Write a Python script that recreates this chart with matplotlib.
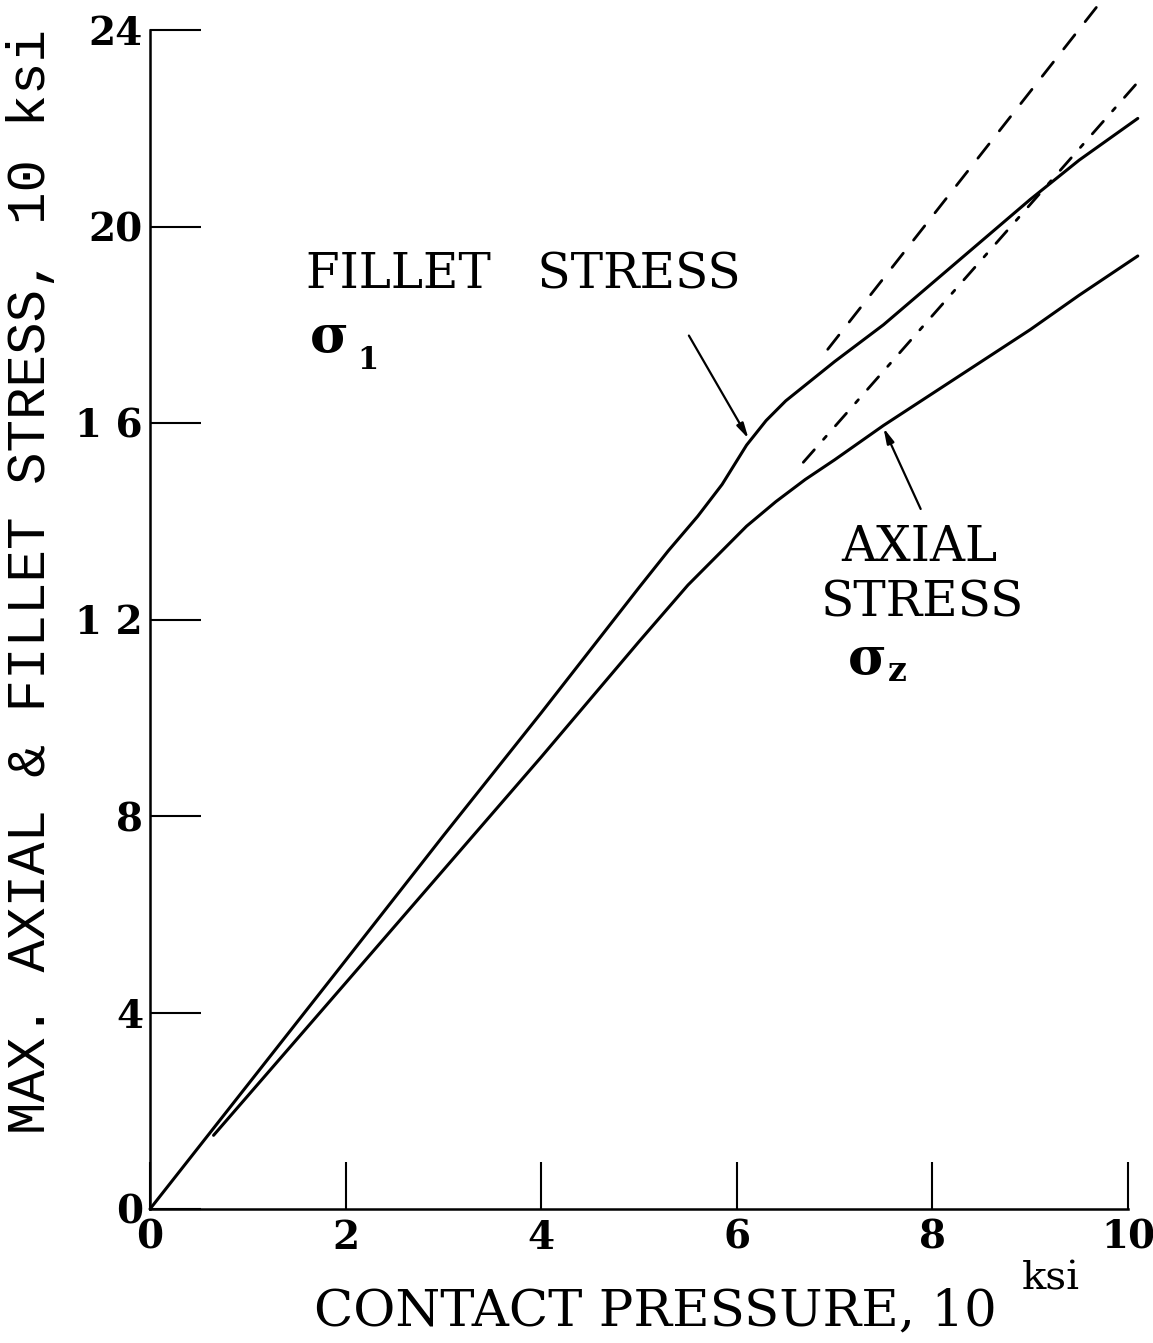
import matplotlib
matplotlib.use("Agg")
import matplotlib.pyplot as plt

# ---- data ----
fillet_x = [0.0, 1.0, 2.0, 3.0, 4.0, 5.0, 5.3, 5.6, 5.85, 6.1, 6.3, 6.5, 6.75, 7.0, 7.5, 8.0, 8.5, 9.0, 9.5, 10.1]
fillet_y = [0.0, 2.53, 5.06, 7.6, 10.1, 12.65, 13.4, 14.1, 14.75, 15.55, 16.05, 16.45, 16.85, 17.25, 18.0, 18.85, 19.7, 20.55, 21.35, 22.2]

axial_x = [0.65, 2.0, 3.0, 4.0, 5.0, 5.5, 5.8, 6.1, 6.4, 6.7, 7.0, 7.5, 8.0, 8.5, 9.0, 9.5, 10.1]
axial_y = [1.5, 4.6, 6.9, 9.2, 11.55, 12.7, 13.3, 13.9, 14.4, 14.85, 15.25, 15.95, 16.6, 17.25, 17.9, 18.6, 19.4]

fillet_ext_x = [6.93, 9.85]
fillet_ext_y = [17.5, 24.9]

axial_ext_x = [6.68, 10.15]
axial_ext_y = [15.2, 23.05]

x_ticks = [0, 2, 4, 6, 8, 10]
x_tick_labels = ["0", "2", "4", "6", "8", "10"]
y_ticks = [0, 4, 8, 12, 16, 20, 24]
y_tick_labels = ["0", "4", "8", "1 2", "1 6", "20", "24"]

W, H = 1153, 1343
fig = plt.figure(figsize=(W / 100, H / 100), dpi=100)
ax = fig.add_axes([150 / W, 1 - 1209 / H, (1128 - 150) / W, (1209 - 30) / H])

lw = 2.2
ax.plot(fillet_x, fillet_y, color="black", lw=lw, clip_on=False,
        solid_capstyle="round", solid_joinstyle="round")
ax.plot(axial_x, axial_y, color="black", lw=lw, clip_on=False,
        solid_capstyle="round", solid_joinstyle="round")
ax.plot(fillet_ext_x, fillet_ext_y, color="black", lw=2.0, clip_on=False,
        linestyle=(0, (6.5, 6.0)), dash_capstyle="round")
ax.plot(axial_ext_x, axial_ext_y, color="black", lw=2.0, clip_on=False,
        linestyle=(0, (6.0, 5.0, 1.5, 5.0)), dash_capstyle="round")

ax.set_xlim(0, 10)
ax.set_ylim(0, 24)
for s in ("top", "right"):
    ax.spines[s].set_visible(False)
for s in ("left", "bottom"):
    ax.spines[s].set_linewidth(1.8)

ax.set_xticks(x_ticks)
ax.set_xticklabels(x_tick_labels)
ax.set_yticks(y_ticks)
ax.set_yticklabels(y_tick_labels)
for lab in ax.get_xticklabels() + ax.get_yticklabels():
    lab.set_fontfamily("DejaVu Serif")
    lab.set_fontweight("bold")
    lab.set_fontsize(28)
ax.tick_params(axis="x", direction="in", length=34, width=1.5, pad=7)
ax.tick_params(axis="y", direction="in", length=37, width=1.5, pad=5)

serif = "DejaVu Serif"
ax.text(1.6, 18.74, "FILLET   STRESS", family=serif, fontsize=35, va="baseline", ha="left")
ax.text(1.63, 17.45, "σ", family=serif, fontsize=38, fontweight="bold", va="baseline", ha="left")
ax.text(2.12, 17.1, "1", family=serif, fontsize=22, fontweight="bold", va="baseline", ha="left")

ax.text(7.87, 13.19, "AXIAL", family=serif, fontsize=35, va="baseline", ha="center")
ax.text(7.9, 12.07, "STRESS", family=serif, fontsize=35, va="baseline", ha="center")
ax.text(7.14, 10.9, "σ", family=serif, fontsize=38, fontweight="bold", va="baseline", ha="left")
ax.text(7.54, 10.75, "z", family=serif, fontsize=24, fontweight="bold", va="baseline", ha="left")

# arrows
ax.annotate("", xy=(6.12, 15.68), xytext=(5.51, 17.78),
            arrowprops=dict(arrowstyle="-|>,head_length=0.9,head_width=0.22",
                            color="black", lw=1.6, shrinkA=0, shrinkB=0))
ax.annotate("", xy=(7.5, 15.9), xytext=(7.88, 14.25),
            arrowprops=dict(arrowstyle="-|>,head_length=0.9,head_width=0.22",
                            color="black", lw=1.6, shrinkA=0, shrinkB=0))

# axis labels
fig.text(655 / W, 1 - 1325 / H, "CONTACT PRESSURE, 10", family=serif, fontsize=37,
         ha="center", va="baseline")
fig.text(1022 / W, 1 - 1290 / H, "ksi", family=serif, fontsize=29, ha="left", va="baseline")
fig.text(31 / W, 1 - 582 / H, "MAX. AXIAL & FILLET STRESS, 10 ksi", family="Liberation Mono",
         fontsize=39, rotation=90, ha="center", va="center")

fig.savefig("out.png", dpi=100, facecolor="white")
